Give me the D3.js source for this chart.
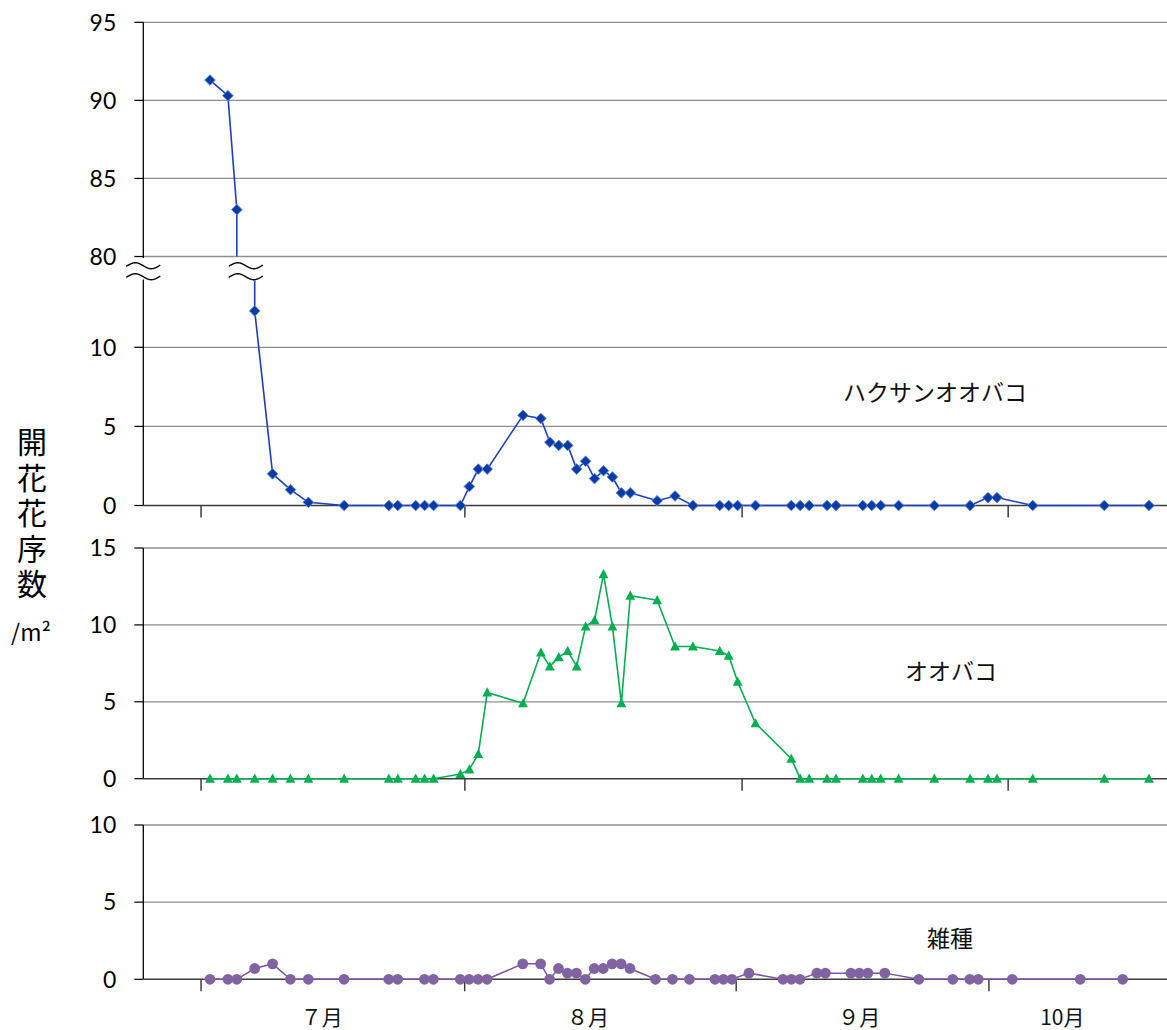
<!DOCTYPE html>
<html>
<head>
<meta charset="utf-8">
<script src="https://cdn.jsdelivr.net/npm/d3@7"></script>
<style>
  body { margin: 0; background: #fff; }
  svg { display: block; }
</style>
</head>
<body>
<svg id="chart" width="1167" height="1030"></svg>
<script>
// Observation days, counted from 3 July
const obsDay = [0, 2, 3, 5, 7, 9, 11, 15, 20, 21, 23, 24, 25, 28, 29, 30, 31,
  35, 37, 38, 39, 40, 41, 42, 43, 44, 45, 46, 47, 50, 52, 54, 57, 58, 59, 61,
  65, 66, 67, 69, 70, 73, 74, 75, 77, 81, 85, 87, 88, 92, 100, 105];

// Flowering inflorescences per m2
const hakusan = [91.3, 90.3, 83.0, 12.3, 2.0, 1.0, 0.2, 0, 0, 0, 0, 0, 0, 0, 1.2, 2.3, 2.3,
  5.7, 5.5, 4.0, 3.8, 3.8, 2.3, 2.8, 1.7, 2.2, 1.8, 0.8, 0.8, 0.3, 0.6, 0, 0, 0, 0, 0,
  0, 0, 0, 0, 0, 0, 0, 0, 0, 0, 0, 0.5, 0.5, 0, 0, 0];
const oobako = [0, 0, 0, 0, 0, 0, 0, 0, 0, 0, 0, 0, 0, 0.3, 0.6, 1.6, 5.6,
  4.9, 8.2, 7.3, 7.9, 8.3, 7.3, 9.9, 10.3, 13.3, 9.9, 4.9, 11.9, 11.6, 8.6, 8.6, 8.3, 8.0, 6.3, 3.6,
  1.3, 0, 0, 0, 0, 0, 0, 0, 0, 0, 0, 0, 0, 0, 0, 0];
const zasshu = [0, 0, 0, 0.7, 1.0, 0, 0, 0, 0, 0, null, 0, 0, 0, 0, 0, 0,
  1.0, 1.0, 0, 0.7, 0.4, 0.4, 0, 0.7, 0.7, 1.0, 1.0, 0.7, 0, 0, 0, 0, 0, 0, 0.4,
  0, 0, 0, 0.4, 0.4, 0.4, 0.4, 0.4, 0.4, 0, 0, 0, 0, 0, 0, 0];

const seriesNames = ["ハクサンオオバコ", "オオバコ", "雑種"];

// Axis ticks
const topTicksHigh = [80, 85, 90, 95];
const topTicksLow = [0, 5, 10];
const midTicks = [0, 5, 10, 15];
const botTicks = [0, 5, 10];
const monthTickDays = [-1, 28.5, 59.5, 89.25];
const monthLabels = ["７月", "８月", "９月", "10月"];
const monthLabelDays = [12.5, 42.3, 74, 97.9];
const yTitle = "開花花序数";
const yUnit = "/m²";

// ---------------------------------------------------------------
const svg = d3.select("#chart");
const W = 1167;
const axisX = 143.3;
const numFont = "Lato, 'Open Sans', sans-serif";
const jpFont = "'Noto Sans CJK JP', 'Noto Sans CJK SC', sans-serif";
const gridColor = "#8e8e8e";

const COL = {
  blueLine: "#1d3ec2", blueFill: "#0a3aa6", blueEdge: "#5a86d6",
  green: "#00b050",
  purpleLine: "#7b52a8", purpleFill: "#8064a2"
};

const dayExtent = d3.extent(obsDay);
const xMain = d3.scaleLinear().domain(dayExtent).range([210, 1149]);
// the lower panel's date axis runs a little tighter after mid-August
const xLower = d3.scaleLinear().domain([dayExtent[0], 47, dayExtent[1]]).range([210, 630, 1122.7]);

// Top panel: broken axis 0–10 | 80–95
const yTopLow = d3.scaleLinear().domain([0, 10]).range([505.5, 347.3]);
const yTopHigh = d3.scaleLinear().domain([80, 95]).range([256.5, 22.3]);
const breakValue = 80;
const yTop = v => v >= breakValue ? yTopHigh(v) : yTopLow(v);

const yMid = d3.scaleLinear().domain([0, 15]).range([778.7, 548]);
const yBot = d3.scaleLinear().domain([0, 10]).range([979.3, 825]);

function gridAndTicks(g, ticks, y) {
  ticks.forEach(t => {
    const yy = y(t);
    if (t !== 0) {
      g.append("line").attr("x1", axisX).attr("x2", W).attr("y1", yy).attr("y2", yy)
        .attr("stroke", gridColor).attr("stroke-width", 1.3);
    }
    g.append("line").attr("x1", axisX - 9).attr("x2", axisX).attr("y1", yy).attr("y2", yy)
      .attr("stroke", "#000").attr("stroke-width", 1.2);
    g.append("text").attr("x", axisX - 27).attr("y", yy).attr("dy", "0.36em")
      .attr("text-anchor", "end").attr("font-family", numFont).attr("font-size", 23)
      .attr("fill", "#000").text(t);
  });
}

function baseAxis(g, y0, x) {
  g.append("line").attr("x1", axisX).attr("x2", W).attr("y1", y0).attr("y2", y0)
    .attr("stroke", "#3c3c3c").attr("stroke-width", 1.5);
  monthTickDays.forEach(d => {
    g.append("line").attr("x1", x(d)).attr("x2", x(d)).attr("y1", y0).attr("y2", y0 + 12)
      .attr("stroke", "#3c3c3c").attr("stroke-width", 1.5);
  });
}

function yAxisLine(g, y1, y2) {
  g.append("line").attr("x1", axisX).attr("x2", axisX).attr("y1", y1).attr("y2", y2)
    .attr("stroke", "#000").attr("stroke-width", 1.3);
}

const diamond = "M0,-5.3L5.3,0L0,5.3L-5.3,0Z";
const triangle = "M0,-5.2L4.9,4L-4.9,4Z";

// ---------------- Top panel ----------------
const gTop = svg.append("g");
gridAndTicks(gTop, topTicksHigh, yTopHigh);
gridAndTicks(gTop, topTicksLow, yTopLow);
yAxisLine(gTop, yTopHigh(95), yTopLow(0));
baseAxis(gTop, yTopLow(0), xMain);

const topPts = obsDay.map((d, i) => ({ d, v: hakusan[i] }));
const upper = topPts.filter(p => p.v >= breakValue);
const lower = topPts.filter(p => p.v < breakValue);
const breakGap = 24;
const lastUp = upper[upper.length - 1];
const firstLow = lower[0];

const upperPath = upper.map(p => [xMain(p.d), yTop(p.v)]);
upperPath.push([xMain(lastUp.d), yTopHigh(breakValue)]);
const lowerPath = [[xMain(firstLow.d), yTopHigh(breakValue) + breakGap]]
  .concat(lower.map(p => [xMain(p.d), yTop(p.v)]));

const lineGen = d3.line();
[upperPath, lowerPath].forEach(pp => {
  gTop.append("path").attr("d", lineGen(pp)).attr("fill", "none")
    .attr("stroke", COL.blueLine).attr("stroke-width", 1.6);
});

gTop.selectAll(".dia").data(topPts).enter().append("path")
  .attr("d", diamond)
  .attr("transform", p => `translate(${xMain(p.d)},${yTop(p.v)})`)
  .attr("fill", COL.blueFill).attr("stroke", COL.blueEdge).attr("stroke-width", 1);

// break marks (double wave) on the axis and on the series line
function breakMark(cx) {
  const yA = yTopHigh(breakValue) + 9.2, yB = yA + 11;
  const wv = d3.range(-17, 17.5, 0.5);
  gTop.append("rect").attr("x", cx - 17).attr("y", yTopHigh(breakValue) + 1.5)
    .attr("width", 34).attr("height", breakGap - 2.5).attr("fill", "#fff");
  [yA, yB].forEach(yy => {
    gTop.append("path")
      .attr("d", d3.line()(wv.map(x => [cx + x, yy + 3 * Math.sin(2 * Math.PI * x / 32)])))
      .attr("fill", "none").attr("stroke", "#000").attr("stroke-width", 1.4);
  });
}
breakMark(axisX);
breakMark((xMain(lastUp.d) + xMain(firstLow.d)) / 2);

gTop.append("text").attr("x", 843).attr("y", 393).attr("dy", "0.36em")
  .attr("font-family", jpFont).attr("font-size", 23).attr("fill", "#111")
  .text(seriesNames[0]);

// ---------------- Middle panel ----------------
const gMid = svg.append("g");
gridAndTicks(gMid, midTicks, yMid);
yAxisLine(gMid, yMid(15), yMid(0));
baseAxis(gMid, yMid(0), xMain);
const midPts = obsDay.map((d, i) => ({ d, v: oobako[i] }));
gMid.append("path").attr("d", d3.line().x(p => xMain(p.d)).y(p => yMid(p.v))(midPts))
  .attr("fill", "none").attr("stroke", COL.green).attr("stroke-width", 1.6);
gMid.selectAll(".tri").data(midPts).enter().append("path")
  .attr("d", triangle)
  .attr("transform", p => `translate(${xMain(p.d)},${yMid(p.v)})`)
  .attr("fill", COL.green);
gMid.append("text").attr("x", 905).attr("y", 672).attr("dy", "0.36em")
  .attr("font-family", jpFont).attr("font-size", 23).attr("fill", "#111")
  .text(seriesNames[1]);

// ---------------- Bottom panel ----------------
const gBot = svg.append("g");
gridAndTicks(gBot, botTicks, yBot);
yAxisLine(gBot, yBot(10), yBot(0));
baseAxis(gBot, yBot(0), xLower);
const botPts = obsDay.map((d, i) => ({ d, v: zasshu[i] })).filter(p => p.v !== null);
gBot.append("path").attr("d", d3.line().x(p => xLower(p.d)).y(p => yBot(p.v))(botPts))
  .attr("fill", "none").attr("stroke", COL.purpleLine).attr("stroke-width", 1.5);
gBot.selectAll(".dot").data(botPts).enter().append("circle")
  .attr("cx", p => xLower(p.d)).attr("cy", p => yBot(p.v)).attr("r", 5.4)
  .attr("fill", COL.purpleFill);
gBot.append("text").attr("x", 927).attr("y", 939).attr("dy", "0.36em")
  .attr("font-family", jpFont).attr("font-size", 23).attr("fill", "#111")
  .text(seriesNames[2]);

// month labels
monthLabels.forEach((m, i) => {
  svg.append("text").attr("x", xLower(monthLabelDays[i])).attr("y", 1017).attr("dy", "0.36em")
    .attr("text-anchor", "middle").attr("font-family", jpFont).attr("font-size", 21)
    .attr("fill", "#111").text(m);
});

// y-axis title, set vertically
svg.append("text")
  .attr("x", 32).attr("y", 427)
  .style("writing-mode", "vertical-rl")
  .attr("font-family", jpFont).attr("font-size", 30)
  .attr("letter-spacing", "5.5px")
  .attr("fill", "#000").text(yTitle);
svg.append("text").attr("x", 31).attr("y", 633).attr("dy", "0.36em")
  .attr("text-anchor", "middle").attr("font-family", jpFont).attr("font-size", 23)
  .attr("fill", "#000").text(yUnit);
</script>
</body>
</html>
